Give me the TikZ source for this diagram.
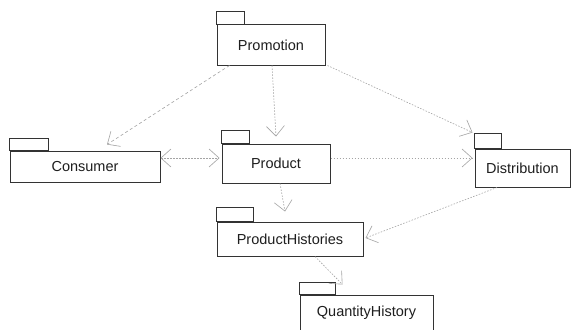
\documentclass[tikz,border=0pt]{standalone}
\usepackage{fontspec}
\setmainfont{Liberation Sans}
\usetikzlibrary{arrows.meta}
\definecolor{boxline}{HTML}{333333}
\definecolor{pkgtext}{HTML}{1E1E1E}
\definecolor{depline}{HTML}{A4A4A4}

\begin{document}
\begin{tikzpicture}[x=1pt, y=-1pt,
  pkg/.style={draw=boxline, line width=1pt, inner sep=0pt, text=pkgtext,
    font=\fontsize{14.5}{16}\selectfont},
  tab/.style={draw=boxline, line width=1pt},
  dep/.style={draw=depline, line width=0.6pt, dash pattern=on 1.5pt off 1.5pt,
    -{Straight Barb[length=10pt,width=18pt]}}]
\useasboundingbox[fill=white] (0,0) rectangle (572,329);

% Package bodies
\node[pkg, minimum width=108pt, minimum height=40pt] (promo) at (271,45) {Promotion};
\node[pkg, minimum width=150pt, minimum height=31pt] (cons) at (85,166.5) {Consumer};
\node[pkg, minimum width=108pt, minimum height=39pt] (prod) at (276,163.5) {Product};
\node[pkg, minimum width=95pt, minimum height=38pt] (dist) at (522.5,168) {Distribution};
\node[pkg, minimum width=146pt, minimum height=34pt] (hist) at (290,239) {ProductHistories};
\node[pkg, minimum width=133pt, minimum height=36pt] (qty) at (366.5,313) {QuantityHistory};

% Package tabs
\draw[tab] (promo.north west) rectangle ++(28,-13);
\draw[tab] (cons.north west) rectangle ++(39,-12);
\draw[tab] (prod.north west) rectangle ++(28,-13);
\draw[tab] (dist.north west) rectangle ++(27,-15);
\draw[tab] (hist.north west) rectangle ++(37,-14);
\draw[tab] (qty.north west) rectangle ++(36,-12);

% Dependencies
\draw[dep, dash pattern=on 3pt off 2.5pt] ([xshift=13pt]promo.south west) -- ([xshift=22pt,yshift=6pt]cons.north);
\draw[dep] ([xshift=1pt]promo.south) -- ([yshift=7pt]prod.north);
\draw[dep] ([xshift=2pt]promo.south east) -- ([xshift=-2pt,yshift=16pt]dist.north west);
\draw[dep, {Straight Barb[length=10pt,width=18pt]}-{Straight Barb[length=10pt,width=18pt]}]
  ([yshift=8.5pt]cons.east) -- ([xshift=-2pt,yshift=5.5pt]prod.west);
\draw[dep] ([yshift=5.5pt]prod.east) -- ([xshift=-2pt,yshift=10pt]dist.west);
\draw[dep] ([xshift=4pt]prod.south) -- ([xshift=-5pt,yshift=10pt]hist.north);
\draw[dep] ([xshift=-25.5pt]dist.south) -- ([xshift=2pt,yshift=1pt]hist.east);
\draw[dep] ([xshift=25pt]hist.south) -- ([xshift=43pt,yshift=10pt]qty.north west);
\end{tikzpicture}
\end{document}
